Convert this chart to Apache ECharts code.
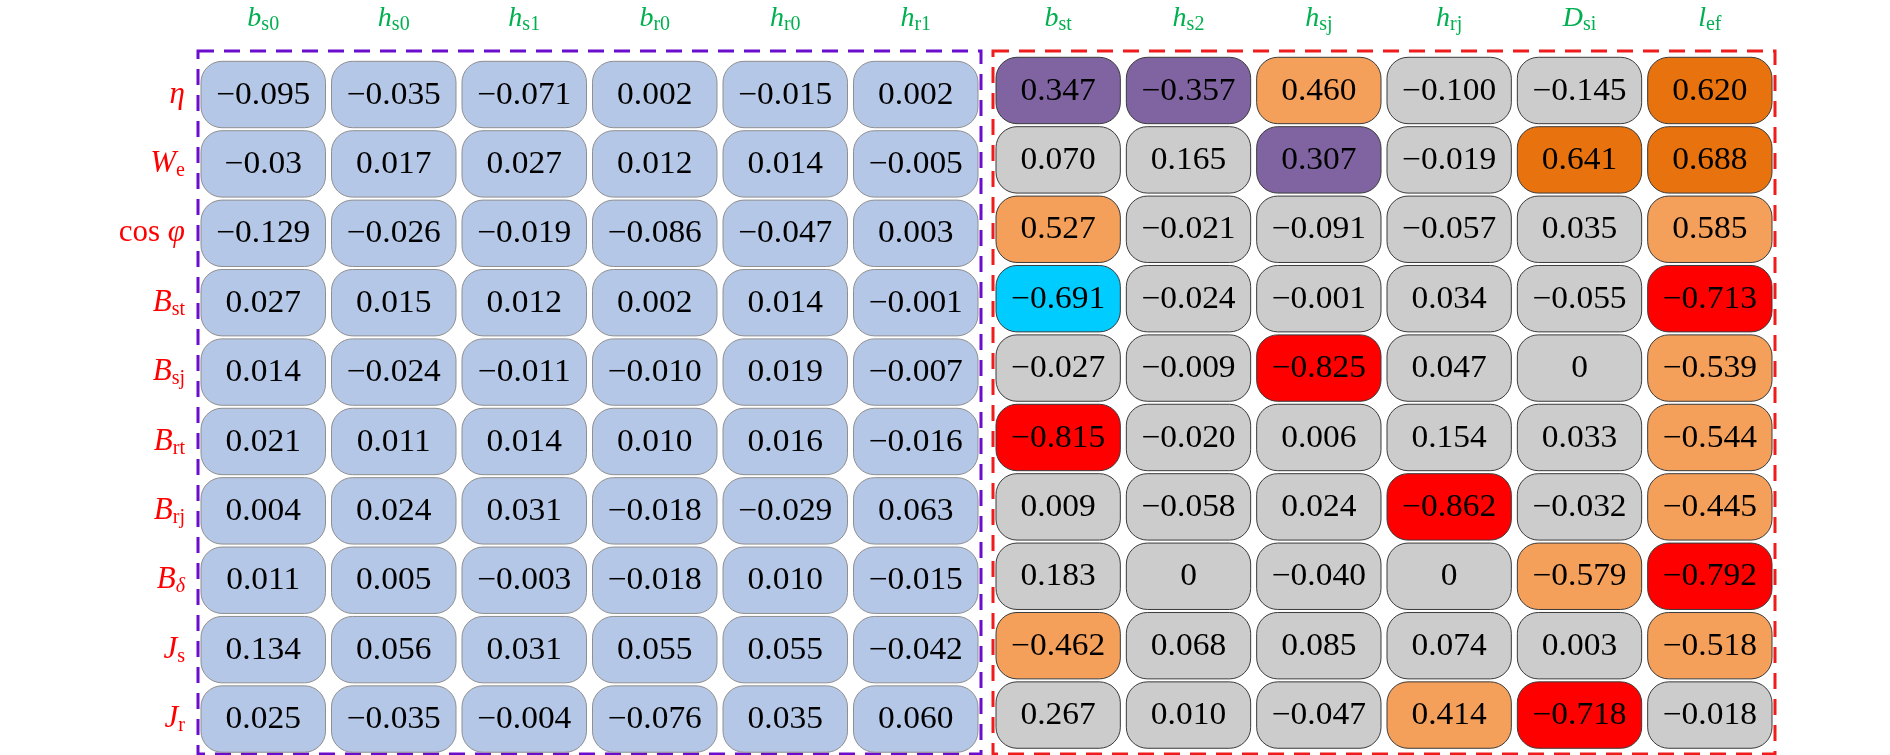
<!DOCTYPE html>
<html><head><meta charset="utf-8">
<script src="https://cdn.jsdelivr.net/npm/echarts@6/dist/echarts.min.js"></script>
<style>html,body{margin:0;padding:0;background:#fff}#c{width:1890px;height:755px}</style>
</head><body><div id="c"></div>
<script>
// ---- labels ----
const rowLabels = [['η',''],['W','e'],['cos φ',''],['B','st'],['B','sj'],['B','rt'],['B','rj'],['B','δ'],['J','s'],['J','r']];
const leftCols  = [['b','s0'],['h','s0'],['h','s1'],['b','r0'],['h','r0'],['h','r1']];
const rightCols = [['b','st'],['h','s2'],['h','sj'],['h','rj'],['D','si'],['l','ef']];

// ---- values (rows: η, We, cosφ, Bst, Bsj, Brt, Brj, Bδ, Js, Jr) ----
const leftValues = [
  ['-0.095','-0.035','-0.071','0.002','-0.015','0.002'],
  ['-0.03','0.017','0.027','0.012','0.014','-0.005'],
  ['-0.129','-0.026','-0.019','-0.086','-0.047','0.003'],
  ['0.027','0.015','0.012','0.002','0.014','-0.001'],
  ['0.014','-0.024','-0.011','-0.010','0.019','-0.007'],
  ['0.021','0.011','0.014','0.010','0.016','-0.016'],
  ['0.004','0.024','0.031','-0.018','-0.029','0.063'],
  ['0.011','0.005','-0.003','-0.018','0.010','-0.015'],
  ['0.134','0.056','0.031','0.055','0.055','-0.042'],
  ['0.025','-0.035','-0.004','-0.076','0.035','0.060']
];
const rightValues = [
  ['0.347','-0.357','0.460','-0.100','-0.145','0.620'],
  ['0.070','0.165','0.307','-0.019','0.641','0.688'],
  ['0.527','-0.021','-0.091','-0.057','0.035','0.585'],
  ['-0.691','-0.024','-0.001','0.034','-0.055','-0.713'],
  ['-0.027','-0.009','-0.825','0.047','0','-0.539'],
  ['-0.815','-0.020','0.006','0.154','0.033','-0.544'],
  ['0.009','-0.058','0.024','-0.862','-0.032','-0.445'],
  ['0.183','0','-0.040','0','-0.579','-0.792'],
  ['-0.462','0.068','0.085','0.074','0.003','-0.518'],
  ['0.267','0.010','-0.047','0.414','-0.718','-0.018']
];
// colour class of each right-group cell: G grey, P purple, L light orange, D dark orange, R red, C cyan
const rightClasses = [
  ['P','P','L','G','G','D'],
  ['G','G','P','G','D','D'],
  ['L','G','G','G','G','L'],
  ['C','G','G','G','G','R'],
  ['G','G','R','G','G','L'],
  ['R','G','G','G','G','L'],
  ['G','G','G','R','G','L'],
  ['G','G','G','G','L','R'],
  ['L','G','G','G','G','L'],
  ['G','G','G','L','R','G']
];

const palette = {
  B: {fill:'#B4C7E7', stroke:'#8F8F8F'},
  G: {fill:'#CCCCCC', stroke:'#3A3A3A'},
  P: {fill:'#8064A2', stroke:'#3A3A3A'},
  L: {fill:'#F5A05A', stroke:'#3A3A3A'},
  D: {fill:'#E8720E', stroke:'#3A3A3A'},
  R: {fill:'#FF0000', stroke:'#3A3A3A'},
  C: {fill:'#00CCFF', stroke:'#3A3A3A'}
};

const serif = 'Liberation Serif';
const green = '#00B050';
const red = '#FF0000';

function buildCells(values, classes) {
  const cells = [];
  values.forEach((row, r) => row.forEach((txt, c) => {
    cells.push({col: c, row: r, text: txt.replace('-', '\u2212'), cls: classes ? classes[r][c] : 'B'});
  }));
  return cells;
}
const leftCells = buildCells(leftValues, null);
const rightCells = buildCells(rightValues, rightClasses);

function makeCellRender(cells) {
  return function (params, api) {
    const cell = cells[params.dataIndex];
    const p = api.coord([api.value(0), api.value(1)]);
    const s = api.size([1, 1]);
    const w = s[0] - 6, h = s[1] - 3;
    const st = palette[cell.cls];
    return {
      type: 'group',
      children: [
        {type: 'rect', shape: {x: p[0] - w / 2, y: p[1] - h / 2, width: w, height: h, r: 21},
         style: {fill: st.fill, stroke: st.stroke, lineWidth: 1}},
        {type: 'text', x: p[0], y: p[1] + 1, scaleX: 1.08,
         style: {text: cell.text, x: 0, y: 0, align: 'center', verticalAlign: 'middle',
          fontFamily: serif, fontSize: 31, fill: '#000'}}
      ]
    };
  };
}
function makeFrameRender(color) {
  return function (params) {
    const cs = params.coordSys;
    return {type: 'rect', shape: {x: cs.x, y: cs.y, width: cs.width, height: cs.height},
      style: {fill: null, stroke: color, lineWidth: 3, lineDash: [16, 10]}};
  };
}

const colRich = {
  i: {fontFamily: serif, fontStyle: 'italic', fontSize: 28, color: green, lineHeight: 32},
  s: {fontFamily: serif, fontSize: 20, color: green, lineHeight: 15, verticalAlign: 'bottom'}
};
const rowRich = {
  i: {fontFamily: serif, fontStyle: 'italic', fontSize: 31, color: red, lineHeight: 34},
  r: {fontFamily: serif, fontSize: 31, color: red, lineHeight: 34},
  s: {fontFamily: serif, fontSize: 20, color: red, lineHeight: 16, verticalAlign: 'bottom'},
  si: {fontFamily: serif, fontStyle: 'italic', fontSize: 20, color: red, lineHeight: 16, verticalAlign: 'bottom'}
};
function colFmt(cols) {
  return function (v, idx) { const c = cols[idx]; return '{i|' + c[0] + '}{s|' + c[1] + '}'; };
}
function rowFmt(v) {
  const l = rowLabels[Math.round(v)];
  if (!l) return '';
  if (l[0] === 'cos φ') return '{r|cos }{i|φ}';
  if (!l[1]) return '{i|' + l[0] + '}';
  return '{i|' + l[0] + '}{' + (l[1] === 'δ' ? 'si' : 's') + '|' + l[1] + '}';
}

const rowIdx = rowLabels.map((_, i) => i);
const hidden = {axisLine: {show: false}, axisTick: {show: false}, splitLine: {show: false}};

const option = {
  backgroundColor: '#fff',
  animation: false,
  grid: [
    {left: 198, top: 51, width: 783, height: 703, containLabel: false, outerBoundsMode: 'none'},
    {left: 993, top: 51, width: 782, height: 703, containLabel: false, outerBoundsMode: 'none'}
  ],
  xAxis: [
    Object.assign({type: 'category', gridIndex: 0, position: 'top', data: leftCols.map(c => c.join('_')),
      axisLabel: {interval: 0, margin: 16, formatter: colFmt(leftCols), rich: colRich}}, hidden),
    Object.assign({type: 'category', gridIndex: 1, position: 'top', data: rightCols.map(c => c.join('_')),
      axisLabel: {interval: 0, margin: 16, formatter: colFmt(rightCols), rich: colRich}}, hidden)
  ],
  yAxis: [
    Object.assign({type: 'value', gridIndex: 0, inverse: true, min: -0.627, max: 9.504,
      axisLabel: {customValues: rowIdx, margin: 13, formatter: rowFmt, rich: rowRich}}, hidden),
    Object.assign({type: 'value', gridIndex: 1, inverse: true, min: -0.569, max: 9.561,
      axisLabel: {show: false}}, hidden)
  ],
  series: [
    {type: 'custom', xAxisIndex: 0, yAxisIndex: 0, data: [[0, 0]], renderItem: makeFrameRender('#6A0DCC'), z: 1, silent: true},
    {type: 'custom', xAxisIndex: 1, yAxisIndex: 1, data: [[0, 0]], renderItem: makeFrameRender('#EE1C1C'), z: 1, silent: true},
    {type: 'custom', xAxisIndex: 0, yAxisIndex: 0, data: leftCells.map(c => [c.col, c.row]), renderItem: makeCellRender(leftCells), z: 2, silent: true},
    {type: 'custom', xAxisIndex: 1, yAxisIndex: 1, data: rightCells.map(c => [c.col, c.row]), renderItem: makeCellRender(rightCells), z: 2, silent: true}
  ]
};
const chart = echarts.init(document.getElementById('c'));
chart.setOption(option);
</script></body></html>
